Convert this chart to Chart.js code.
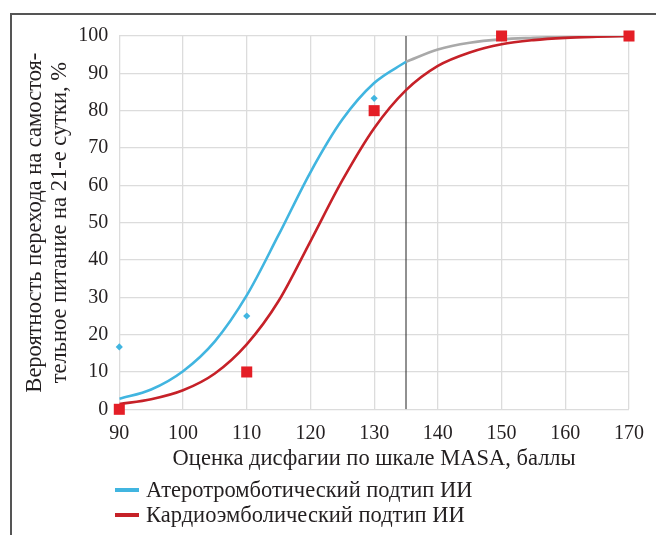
<!DOCTYPE html>
<html>
<head>
<meta charset="utf-8">
<script src="https://cdn.jsdelivr.net/npm/chart.js@4/dist/chart.umd.min.js"></script>
<style>
html, body { margin: 0; padding: 0; background: #fff; }
#wrap { position: relative; width: 656px; height: 535px; overflow: hidden; }
#frame { position: absolute; left: 10px; top: 13px; right: -5px; bottom: -5px; border-top: 2px solid #555; border-left: 2px solid #555; }
canvas { position: absolute; left: 0; top: 0; }
</style>
</head>
<body>
<div id="wrap">
  <div id="frame"></div>
  <canvas id="chart" width="656" height="535"></canvas>
</div>
<script>
// fitted curves
const atheroX = [90, 95, 100, 105, 110, 115, 120, 125, 130, 135];
const atheroY = [2.8, 5.3, 10.2, 18.2, 30.5, 46.7, 63.5, 77.6, 87.4, 93.1];
const atheroTailX = [135, 140, 145, 150, 155, 160, 165, 170];
const atheroTailY = [93.1, 96.4, 98.2, 99.1, 99.5, 99.8, 99.9, 100];
const cardioX = [90, 95, 100, 105, 110, 115, 120, 125, 130, 135, 140, 145, 150, 155, 160, 165, 170];
const cardioY = [1.4, 2.7, 5.1, 9.6, 17.4, 29, 45, 61.3, 75.3, 85.5, 92, 95.6, 97.8, 98.9, 99.5, 99.8, 100];

// observed values
const atheroObsX = [90, 110, 130, 150, 170];
const atheroObsY = [16.7, 25, 83.3, 100, 100];
const cardioObsX = [90, 110, 130, 150, 170];
const cardioObsY = [0, 10, 80, 100, 100];

const cutoffX = 135;
const labels = ['Атеротромботический подтип ИИ', 'Кардиоэмболический подтип ИИ'];
const xTitle = 'Оценка дисфагии по шкале MASA, баллы';
const yTitle = ['Вероятность перехода на самостоя-', 'тельное питание на 21-е сутки, %'];

const BLUE = '#41b5e0';
const RED = '#c62128';
const RED_MARK = '#e41e26';
const GREY = '#a9a9a9';
const TEXT = '#231f20';
const FONT = '"Liberation Serif", "DejaVu Serif", serif';

function pts(xs, ys) {
    return xs.map((x, i) => ({ x: x, y: ys[i] }));
}

// legend drawn below the axis title, one item per line
const stackedLegend = {
    id: 'stackedLegend',
    afterDraw(chart) {
        const ctx = chart.ctx;
        const items = [[labels[0], BLUE], [labels[1], RED]];
        ctx.save();
        ctx.font = '22.5px ' + FONT;
        ctx.textBaseline = 'middle';
        items.forEach((it, i) => {
            let y = 490 + i * 25;
            ctx.strokeStyle = it[1];
            ctx.lineWidth = 4;
            ctx.beginPath();
            ctx.moveTo(115, y);
            ctx.lineTo(139, y);
            ctx.stroke();
            ctx.fillStyle = TEXT;
            ctx.fillText(it[0], 146, y + 1);
        });
        ctx.restore();
    }
};

new Chart(document.getElementById('chart'), {
    type: 'line',
    data: {
        datasets: [
            {
                label: 'cardio-obs', type: 'scatter', data: pts(cardioObsX, cardioObsY),
                pointStyle: 'rect', pointRadius: 7.8, backgroundColor: RED_MARK, borderWidth: 0,
                showLine: false, clip: false, order: 0
            },
            {
                label: 'athero-obs', type: 'scatter', data: pts(atheroObsX, atheroObsY),
                pointStyle: 'rectRot', pointRadius: 3.6, backgroundColor: BLUE, borderWidth: 0,
                showLine: false, clip: false, order: 1
            },
            {
                label: labels[1], data: pts(cardioX, cardioY), borderColor: RED, borderWidth: 2.6,
                pointRadius: 0, cubicInterpolationMode: 'monotone', fill: false, order: 2
            },
            {
                label: labels[0], data: pts(atheroX, atheroY), borderColor: BLUE, borderWidth: 2.6,
                pointRadius: 0, cubicInterpolationMode: 'monotone', fill: false, order: 3
            },
            {
                label: 'athero-tail', data: pts(atheroTailX, atheroTailY), borderColor: GREY, borderWidth: 2.6,
                pointRadius: 0, cubicInterpolationMode: 'monotone', fill: false, order: 4
            },
            {
                label: 'cutoff', data: [{ x: cutoffX, y: 0 }, { x: cutoffX, y: 100 }], borderColor: '#222',
                borderWidth: 1, pointRadius: 0, fill: false, order: 5
            }
        ]
    },
    options: {
        responsive: false,
        animation: false,
        devicePixelRatio: 1,
        layout: { padding: { top: 36, right: 26, bottom: 0, left: 0 } },
        plugins: { legend: { display: false }, tooltip: { enabled: false } },
        scales: {
            x: {
                type: 'linear', min: 90, max: 170,
                ticks: { stepSize: 10, padding: 12, color: TEXT, font: { family: FONT, size: 20 } },
                grid: { color: '#dcdcdc', lineWidth: 1.3, drawTicks: false },
                border: { display: false },
                title: { display: true, text: xTitle, color: TEXT, font: { family: FONT, size: 22.5, lineHeight: 1.2 }, padding: { top: 0, bottom: 62.5 } },
                afterFit: s => { s.height = 535 - 409.3; }
            },
            y: {
                type: 'linear', min: 0, max: 100,
                ticks: { stepSize: 10, padding: 11, color: TEXT, font: { family: FONT, size: 20 } },
                grid: { color: '#dcdcdc', lineWidth: 1.3, drawTicks: false },
                border: { display: false },
                title: { display: true, text: yTitle, color: TEXT, font: { family: FONT, size: 22.5, lineHeight: 1.11 }, padding: { top: 22.5, bottom: 0 } },
                afterFit: s => { s.width = 119.3; }
            }
        }
    },
    plugins: [stackedLegend]
});
</script>
</body>
</html>
